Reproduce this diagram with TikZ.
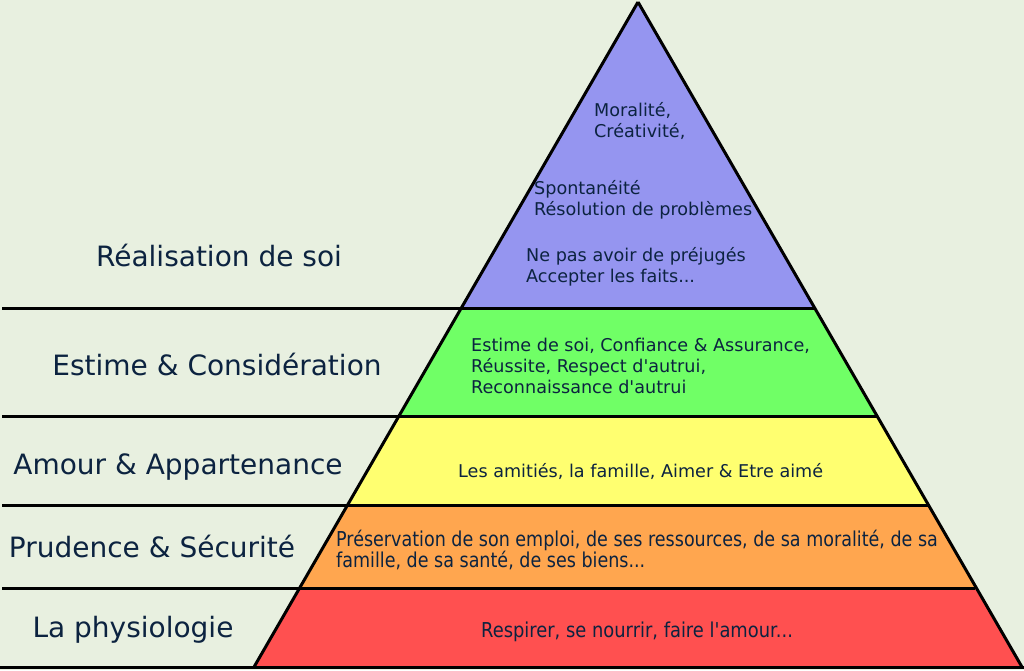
\documentclass[tikz,border=0pt]{standalone}
\usepackage{fontspec}
\setmainfont[Ligatures=TeXOff]{DejaVu Sans}
\definecolor{bgcol}{HTML}{E8F0E0}
\definecolor{inkcol}{HTML}{0C2340}
\definecolor{topcol}{HTML}{9595F0}
\definecolor{esteemcol}{HTML}{70FF66}
\definecolor{lovecol}{HTML}{FFFF70}
\definecolor{safecol}{HTML}{FFA64F}
\definecolor{basecol}{HTML}{FF5050}
\tikzset{
  side/.style={text=inkcol,inner sep=0pt,font=\fontsize{28}{28}\selectfont},
  inside/.style={text=inkcol,inner sep=0pt,anchor=west,align=left,font=\fontsize{17.6}{21}\selectfont},
  narrow/.style={inside,font=\fontsize{20.5}{21.5}\selectfont,xscale=0.855,transform shape},
  rule/.style={line width=3pt,black}
}
\begin{document}
\begin{tikzpicture}[x=1pt,y=-1pt]
      \useasboundingbox (0,0) rectangle (1024,670);
      \fill[bgcol] (0,0) rectangle (1024,670);
      \path
        (638,2) coordinate (apex)
        (462,308) coordinate (l1) (815,308) coordinate (r1)
        (400,416) coordinate (l2) (877,416) coordinate (r2)
        (349,505) coordinate (l3) (928,505) coordinate (r3)
        (300,588) coordinate (l4) (975,588) coordinate (r4)
        (254,667) coordinate (l5) (1022,667) coordinate (r5)
        (2,308) coordinate (e1)
        (2,416) coordinate (e2)
        (2,505) coordinate (e3)
        (2,588) coordinate (e4)
        (0,667) coordinate (e5)
        (1024,667) coordinate (e6);
      \fill[topcol] (apex) -- (l1) -- (r1) -- cycle;
      \fill[esteemcol] (l1) -- (l2) -- (r2) -- (r1) -- cycle;
      \fill[lovecol] (l2) -- (l3) -- (r3) -- (r2) -- cycle;
      \fill[safecol] (l3) -- (l4) -- (r4) -- (r3) -- cycle;
      \fill[basecol] (l4) -- (l5) -- (r5) -- (r4) -- cycle;
      \begin{scope}[rule]
        \draw (apex) -- (l5);
        \draw (apex) -- (r5);
        \draw (e1) -- (r1);
        \draw (e2) -- (r2);
        \draw (e3) -- (r3);
        \draw (e4) -- (r4);
        \draw (e5) -- (e6);
      \end{scope}
      \path
        (219,255) node[side] (selfname){Réalisation de soi}
        (217,364) node[side] (esteemname){Estime \& Considération}
        (178,467) node[side] (lovename){Amour \& Appartenance}
        (152,546) node[side] (safename){Prudence \& Sécurité}
        (133,630) node[side] (basename){La physiologie};
      \path
        (594,121) node[inside] (morals){Moralité,\\Créativité,}
        (534,200) node[inside] (solving){Spontanéité\\Résolution de problèmes}
        (526,267) node[inside] (facts){Ne pas avoir de préjugés\\Accepter les faits...}
        (471,366) node[inside] (esteem){Estime de soi, Confiance \& Assurance,\\Réussite, Respect d'autrui,\\Reconnaissance d'autrui}
        (458,471) node[inside] (love){Les amitiés, la famille, Aimer \& Etre aimé}
        (336,550) node[narrow] (safe){Préservation de son emploi, de ses ressources, de sa moralité, de sa\\famille, de sa santé, de ses biens...}
        (481,632) node[narrow,xscale=1.02] (base){Respirer, se nourrir, faire l'amour...};
    \end{tikzpicture}
\end{document}
